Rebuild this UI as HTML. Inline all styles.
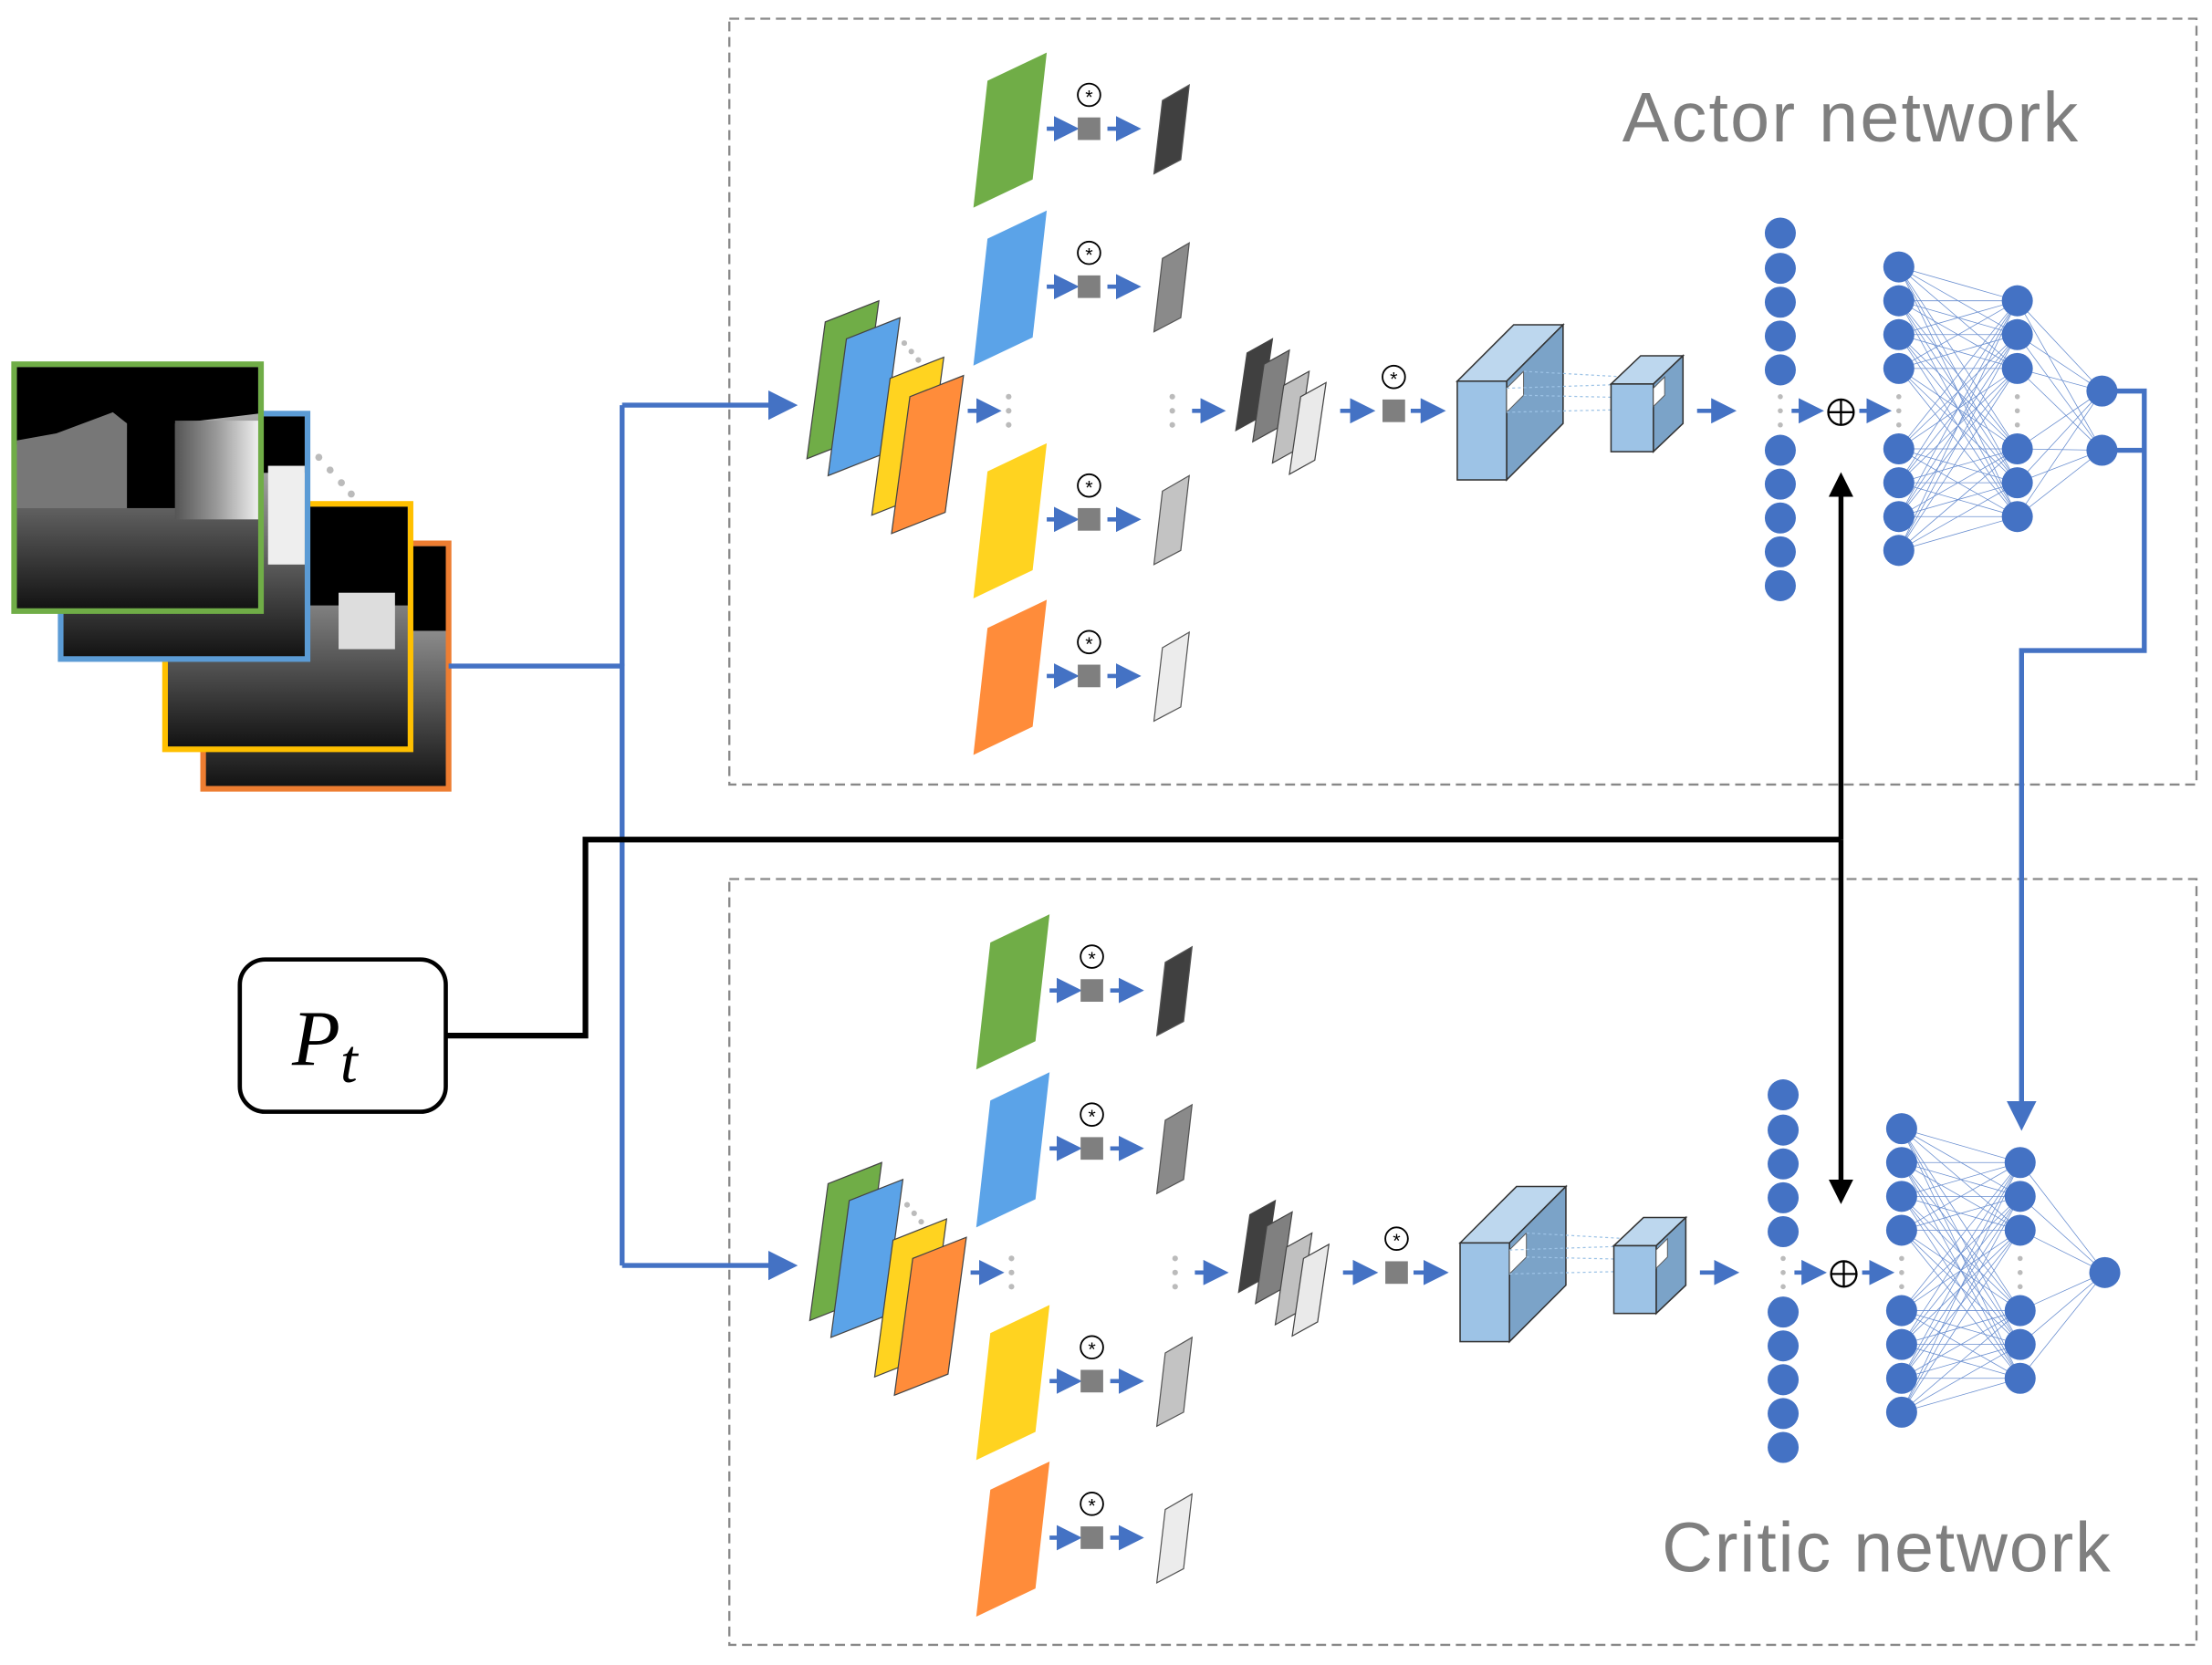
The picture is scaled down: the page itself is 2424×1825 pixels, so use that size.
<!DOCTYPE html>
<html><head><meta charset="utf-8">
<style>html,body{margin:0;padding:0;background:#fff;}svg{display:block}</style>
</head><body>
<svg id="s" width="2424" height="1825" viewBox="0 0 1568 1180" xmlns="http://www.w3.org/2000/svg">
<defs>
<marker id="ab" markerWidth="6" markerHeight="6" refX="5" refY="3" orient="auto" markerUnits="strokeWidth"><path d="M0,0 L6,3 L0,6 z" fill="#4472c4"/></marker>
<marker id="ak" markerWidth="5" markerHeight="5" refX="4" refY="2.5" orient="auto" markerUnits="strokeWidth"><path d="M0,0 L5,2.5 L0,5 z" fill="#000"/></marker>
<linearGradient id="g1" x1="0" y1="0" x2="0" y2="1"><stop offset="0" stop-color="#cfcfcf"/><stop offset="1" stop-color="#111"/></linearGradient>
<linearGradient id="g2" x1="0" y1="0" x2="1" y2="0"><stop offset="0" stop-color="#555"/><stop offset="0.5" stop-color="#999"/><stop offset="1" stop-color="#eee"/></linearGradient>
</defs>
<rect x="517" y="13" width="1040" height="543" fill="none" stroke="#888" stroke-width="1.5" stroke-dasharray="7,4"/>
<rect x="517" y="623" width="1040" height="543" fill="none" stroke="#888" stroke-width="1.5" stroke-dasharray="7,4"/>
<text x="1150" y="100" font-family="Liberation Sans, sans-serif" font-size="50" fill="#7f7f7f" textLength="323" lengthAdjust="spacing">Actor network</text>
<text x="1178" y="1114" font-family="Liberation Sans, sans-serif" font-size="50" fill="#7f7f7f" textLength="318" lengthAdjust="spacing">Critic network</text>

<g id="imgs">
<rect x="144" y="385" width="174" height="174" fill="url(#g1)" stroke="#ed7d31" stroke-width="4"/>
<rect x="146" y="387" width="170" height="60" fill="#000"/>
<rect x="117" y="357" width="174" height="174" fill="url(#g1)" stroke="#ffc000" stroke-width="4"/>
<rect x="119" y="359" width="170" height="70" fill="#000"/>
<rect x="240" y="420" width="40" height="40" fill="#ddd"/>
<rect x="43" y="293" width="175" height="174" fill="url(#g1)" stroke="#5b9bd5" stroke-width="4"/>
<rect x="45" y="295" width="171" height="40" fill="#000"/>
<rect x="190" y="330" width="26" height="70" fill="#eee"/>
<rect x="10" y="258" width="175" height="175" fill="url(#g1)" stroke="#70ad47" stroke-width="4"/>
<path d="M12,260 H183 V293 L125,300 L90,300 L80,293 L40,310 L12,315 Z" fill="#000"/>
<path d="M12,312 L40,307 L80,292 L90,300 L90,360 L12,360 Z" fill="#777"/>
<rect x="124" y="298" width="59" height="70" fill="url(#g2)"/>
<rect x="90" y="298" width="34" height="62" fill="#000"/>
<circle cx="226" cy="324" r="2.5" fill="#bbb"/><circle cx="234" cy="333" r="2.5" fill="#bbb"/><circle cx="242" cy="342" r="2.5" fill="#bbb"/><circle cx="249" cy="350" r="2.5" fill="#bbb"/>
</g>

<path d="M318,472 H441 V897" fill="none" stroke="#4472c4" stroke-width="3.5"/>
<path d="M441,287 V472" fill="none" stroke="#4472c4" stroke-width="3.5"/>
<path d="M441,287 H562" fill="none" stroke="#4472c4" stroke-width="3.5" marker-end="url(#ab)"/>
<path d="M441,897 H562" fill="none" stroke="#4472c4" stroke-width="3.5" marker-end="url(#ab)"/>
<path d="M1500,277 H1520 V461 H1433 V798" fill="none" stroke="#4472c4" stroke-width="3.5" marker-end="url(#ab)"/>
<path d="M1500,319 H1520" fill="none" stroke="#4472c4" stroke-width="3.5"/>

<rect x="170" y="680" width="146" height="108" rx="18" fill="#fff" stroke="#000" stroke-width="3"/>
<text x="207" y="755" font-family="Liberation Serif, serif" font-style="italic" font-size="56">P<tspan font-size="44" dy="12">t</tspan></text>
<path d="M316,734 H415 V595 H1305" fill="none" stroke="#000" stroke-width="4"/>
<path d="M1305,595 V338" fill="none" stroke="#000" stroke-width="3.5" marker-end="url(#ak)"/>
<path d="M1305,595 V850" fill="none" stroke="#000" stroke-width="3.5" marker-end="url(#ak)"/>

<g id="net"></g>
<g id="net2" transform="translate(2,611)"></g>
</svg>
<script>
var NS="http://www.w3.org/2000/svg";
function el(p,t,a){var e=document.createElementNS(NS,t);for(var k in a)e.setAttribute(k,a[k]);p.appendChild(e);return e;}
function arr(g,x1,y,x2){el(g,"line",{x1:x1,y1:y,x2:x2,y2:y,stroke:"#4472c4","stroke-width":3,"marker-end":"url(#ab)"});}
function conv(g,cx,cy){
 el(g,"circle",{cx:cx,cy:cy-24,r:8,fill:"#fff",stroke:"#000","stroke-width":1.2});
 var t=el(g,"text",{x:cx,y:cy-18,"text-anchor":"middle","font-size":14,"font-family":"Liberation Sans, sans-serif"});t.textContent="*";
 el(g,"rect",{x:cx-8,y:cy-8,width:16,height:16,fill:"#7f7f7f"});
}
function build(g,single){
 var cols=["#70ad47","#5ba3e8","#ffd320","#ff8c3a"];
 var sx=[572,587,618,632],sy=[325,337,365,378];
 for(var i=0;i<4;i++){var x=sx[i],y=sy[i];el(g,"polygon",{points:x+","+y+" "+(x+13)+","+(y-97)+" "+(x+51)+","+(y-112)+" "+(x+38)+","+(y-15),fill:cols[i],stroke:"#444","stroke-width":0.8});}
 [[641,243],[646,249],[651,255]].forEach(function(d){el(g,"circle",{cx:d[0],cy:d[1],r:2,fill:"#bbb"});});
 var rows=[91,203,368,479],outs=["#404040","#8a8a8a","#c3c3c3","#ececec"];
 for(var r=0;r<4;r++){var y=rows[r];
  el(g,"polygon",{points:"690,"+(y+56)+" 700,"+(y-34)+" 742,"+(y-54)+" 732,"+(y+36),fill:cols[r],stroke:"none"});
  arr(g,742,y,762);conv(g,772,y);arr(g,785,y,806);
  el(g,"polygon",{points:"818,"+(y+32)+" 824,"+(y-20)+" 843,"+(y-31)+" 837,"+(y+22),fill:outs[r],stroke:"#555","stroke-width":0.8});
 }
 arr(g,686,291,707);
 [281,291,301].forEach(function(y){el(g,"circle",{cx:715,cy:y,r:2,fill:"#bbb"});el(g,"circle",{cx:831,cy:y,r:2,fill:"#bbb"});});
 arr(g,845,291,866);
 var sc=["#404040","#808080","#c0c0c0","#eaeaea"],ox=[876,888,902,914],oy=[305,313,328,336];
 for(var i=0;i<4;i++)el(g,"polygon",{points:ox[i]+","+oy[i]+" "+(ox[i]+8)+","+(oy[i]-55)+" "+(ox[i]+26)+","+(oy[i]-65)+" "+(ox[i]+18)+","+(oy[i]-10),fill:sc[i],stroke:"#444","stroke-width":0.8});
 arr(g,950,291,972);conv(g,988,291);arr(g,1000,291,1022);
 el(g,"polygon",{points:"1033,270 1073,230 1108,230 1068,270",fill:"#bdd7ee",stroke:"#333","stroke-width":1});
 el(g,"polygon",{points:"1068,270 1108,230 1108,300 1068,340",fill:"#7ba3c8",stroke:"#333","stroke-width":1});
 el(g,"rect",{x:1033,y:270,width:35,height:70,fill:"#9dc3e6",stroke:"#333","stroke-width":1});
 el(g,"polygon",{points:"1068,275 1080,263 1080,280 1068,292",fill:"#fff",stroke:"#555","stroke-width":0.6});
 [[1080,263,1170,268],[1080,280,1170,282],[1068,292,1160,290],[1068,275,1160,272]].forEach(function(l){el(g,"line",{x1:l[0],y1:l[1],x2:l[2],y2:l[3],stroke:"#9dc3e6","stroke-width":0.8,"stroke-dasharray":"2,2"});});
 el(g,"polygon",{points:"1142,272 1163,252 1193,252 1172,272",fill:"#bdd7ee",stroke:"#333","stroke-width":1});
 el(g,"polygon",{points:"1172,272 1193,252 1193,300 1172,320",fill:"#7ba3c8",stroke:"#333","stroke-width":1});
 el(g,"rect",{x:1142,y:272,width:30,height:48,fill:"#9dc3e6",stroke:"#333","stroke-width":1});
 el(g,"polygon",{points:"1172,275 1180,267 1180,280 1172,288",fill:"#fff",stroke:"#555","stroke-width":0.6});
 arr(g,1203,291,1228);
 var L1=[165,190,214,238,262,319,343,367,391,415],L2=[189,213,237,261,318,342,366,390],L3=[213,237,261,318,342,366],L4=single?[291]:[277,319];
 var fc=el(g,"g",{stroke:"#4472c4","stroke-width":0.5,opacity:0.8});
 L2.forEach(function(a){L3.forEach(function(b){el(fc,"line",{x1:1346,y1:a,x2:1430,y2:b});});});
 L3.forEach(function(a){L4.forEach(function(b){el(fc,"line",{x1:1430,y1:a,x2:1490,y2:b});});});
 L1.forEach(function(y){el(g,"circle",{cx:1262,cy:y,r:11,fill:"#4472c4"});});
 L2.forEach(function(y){el(g,"circle",{cx:1346,cy:y,r:11,fill:"#4472c4"});});
 L3.forEach(function(y){el(g,"circle",{cx:1430,cy:y,r:11,fill:"#4472c4"});});
 L4.forEach(function(y){el(g,"circle",{cx:1490,cy:y,r:11,fill:"#4472c4"});});
 [281,291,301].forEach(function(y){el(g,"circle",{cx:1262,cy:y,r:1.8,fill:"#bbb"});el(g,"circle",{cx:1346,cy:y,r:1.8,fill:"#bbb"});el(g,"circle",{cx:1430,cy:y,r:1.8,fill:"#bbb"});});
 arr(g,1270,291,1290);
 el(g,"circle",{cx:1305,cy:292,r:9,fill:"#fff",stroke:"#000","stroke-width":1.5});
 el(g,"line",{x1:1296,y1:292,x2:1314,y2:292,stroke:"#000","stroke-width":1.5});
 el(g,"line",{x1:1305,y1:283,x2:1305,y2:301,stroke:"#000","stroke-width":1.5});
 arr(g,1318,291,1338);
}
build(document.getElementById("net"),false);
build(document.getElementById("net2"),true);
</script>
</body></html>
